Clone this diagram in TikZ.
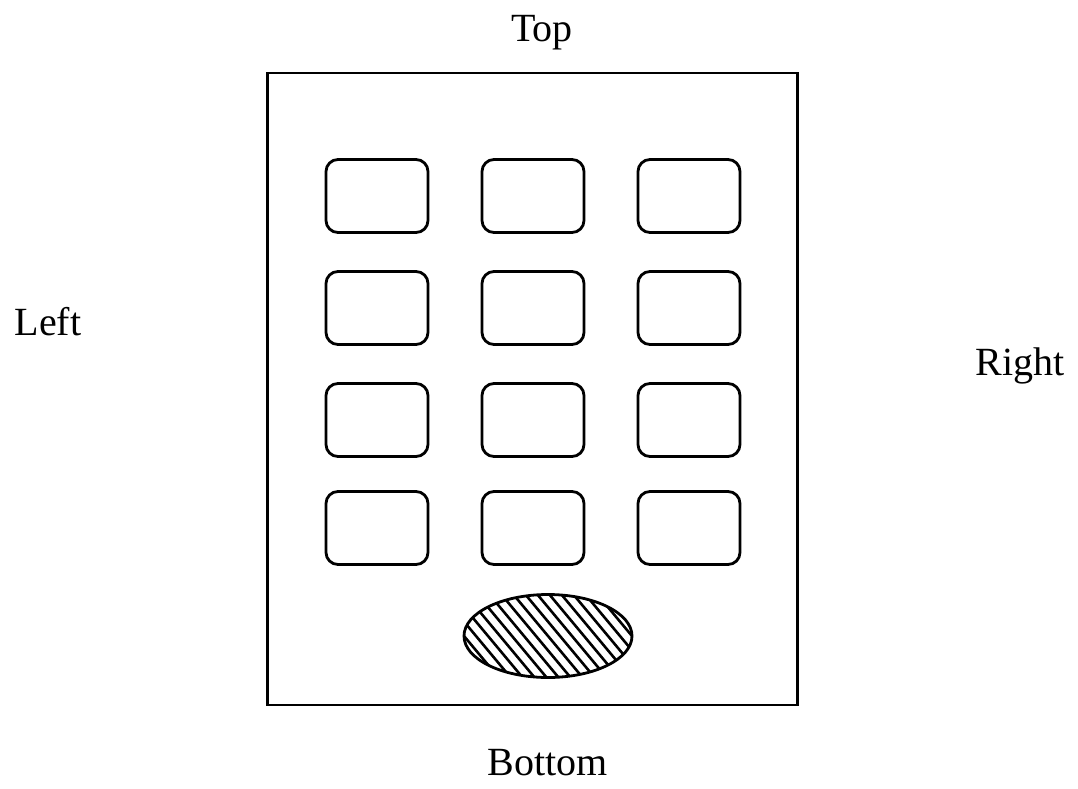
\documentclass[tikz,border=0pt]{standalone}
\usepackage{fontspec}
\setmainfont{Liberation Serif}
\usetikzlibrary{shapes.geometric}
\begin{document}
\begin{tikzpicture}[x=1pt,y=-1pt,
  lbl/.style={font=\fontsize{40}{48}\selectfont, anchor=base, inner sep=0pt},
  keybox/.style={draw, line width=2.8pt, rounded corners=12pt, minimum width=102pt, minimum height=73pt, inner sep=0pt},
  frame/.style={draw, line width=2.8pt, inner sep=0pt},
  padshape/.style={draw, ellipse, line width=2.8pt, minimum width=168pt, minimum height=83pt, inner sep=0pt}]
\useasboundingbox (0,0) rectangle (1078,789);
\node[frame, minimum width=530pt, minimum height=632pt] (case) at (532.5,389) {};
\foreach \r/\y in {1/196,2/308,3/420,4/528}{
  \foreach \c/\x in {1/377,2/533,3/689}{
    \node[keybox] (k\r\c) at (\x,\y) {};
  }
}
\begin{scope}
  \clip (548,636) ellipse (84pt and 41.5pt);
  \foreach \t in {-192,-180,...,192}{
    \draw[line width=2.6pt] (548+\t-80,636-96) -- (548+\t+80,636+96);
  }
\end{scope}
\node[padshape] (pad) at (548,636) {};
\node[lbl] (top) at (542,42) {Top};
\node[lbl] (left) at (48,335) {Left};
\node[lbl] (right) at (1020,375) {Right};
\node[lbl] (bottom) at (548,775) {Bottom};
\end{tikzpicture}
\end{document}
